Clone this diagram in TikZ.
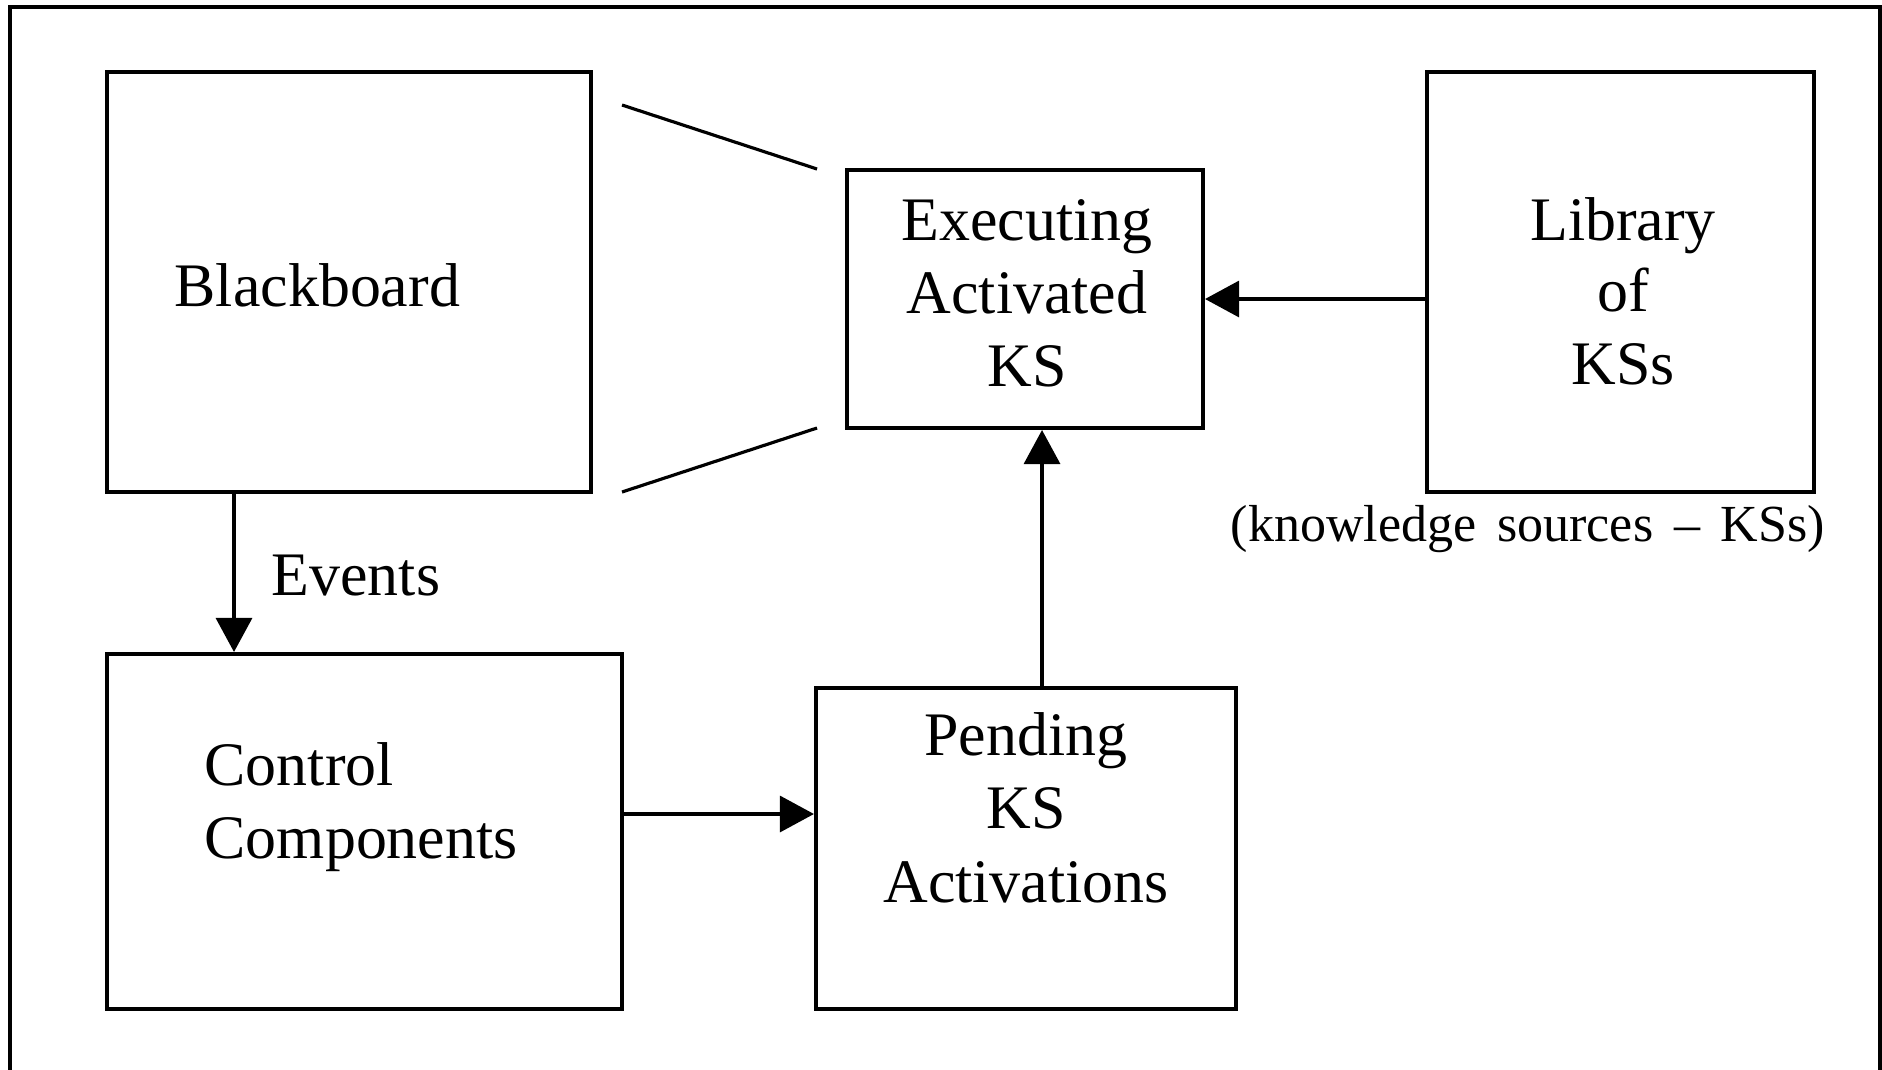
\documentclass[tikz,border=0pt]{standalone}
\usepackage{fontspec}
\setmainfont{Liberation Serif}
\usetikzlibrary{arrows.meta}
\tikzset{
  box/.style={draw, line width=1.1pt, inner sep=0pt},
  lbl/.style={inner sep=0pt, font=\fontsize{17.6}{20.8}\selectfont},
  small/.style={inner sep=0pt, font=\fontsize{14.8}{17}\selectfont},
  arr/.style={line width=0.9pt, -{Triangle[length=3.4mm,width=3.6mm]}},
  plainline/.style={line width=0.9pt},
  frame/.style={line width=1.1pt}
}
\begin{document}
\begin{tikzpicture}[x=0.01cm,y=-0.01cm]
\useasboundingbox (0,0) rectangle (1882,1069);
\clip (0,0) rectangle (1882,1069);
\draw[frame] (10,1100) -- (10,7) -- (1880,7) -- (1880,1100);

% boxes
\node[box, minimum width=4.84cm, minimum height=4.20cm] (bb)  at (349,282) {};
\node[box, minimum width=3.56cm, minimum height=2.58cm] (ex)  at (1025,299) {};
\node[box, minimum width=3.87cm, minimum height=4.20cm] (lib) at (1620.5,282) {};
\node[box, minimum width=5.15cm, minimum height=3.55cm] (ctl) at (364.5,831.5) {};
\node[box, minimum width=4.20cm, minimum height=3.21cm] (pen) at (1026,848.5) {};

% texts
\node[lbl, anchor=base west] (bbt) at (174,306) {Blackboard};
\node[lbl, anchor=base] (ex1) at (1027,240) {Executing};
\node[lbl, anchor=base] (ex2) at (1027,313) {Activated};
\node[lbl, anchor=base] (ex3) at (1027,386) {KS};
\node[lbl, anchor=base] (lib1) at (1623,240) {Library};
\node[lbl, anchor=base] (lib2) at (1623,311) {of};
\node[lbl, anchor=base] (lib3) at (1623,384) {KSs};
\node[lbl, anchor=base west] (ctl1) at (204,785) {Control};
\node[lbl, anchor=base west] (ctl2) at (204,858) {Components};
\node[lbl, anchor=base] (pen1) at (1026,755) {Pending};
\node[lbl, anchor=base] (pen2) at (1026,828) {KS};
\node[lbl, anchor=base] (pen3) at (1026,902) {Activations};
\node[lbl, anchor=base west] (evt) at (271,595) {Events};
\node[small, anchor=base west] (kss) at (1230,541)
  {(knowledge\hspace{0.4em}sources\hspace{0.4em}–\hspace{0.4em}KSs)};

% zoom lines
\coordinate (z1) at (622,105);
\coordinate (z2) at (817,169);
\coordinate (z3) at (622,492);
\coordinate (z4) at (817,428);
\draw[plainline] (z1) -- (z2);
\draw[plainline] (z3) -- (z4);

% arrows
\coordinate (e1) at ([xshift=1.29cm]bb.south west);
\draw[arr] (e1) -- (e1 |- ctl.north);
\coordinate (c1) at ([yshift=0.175cm]ctl.east);
\draw[arr] (c1) -- (c1 -| pen.west);
\coordinate (p1) at ([xshift=0.16cm]pen.north);
\draw[arr] (p1) -- (p1 |- ex.south);
\draw[arr] (lib.west |- ex.east) -- (ex.east);
\end{tikzpicture}
\end{document}
